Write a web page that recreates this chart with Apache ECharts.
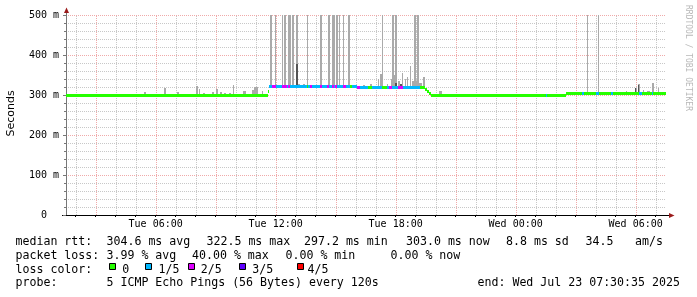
<!DOCTYPE html>
<html><head><meta charset="utf-8">
<script src="https://cdn.jsdelivr.net/npm/echarts@6/dist/echarts.min.js"></script>
<style>html,body{margin:0;padding:0;background:#fff}#c{width:697px;height:297px}</style>
</head><body><div id="c"></div>
<script>
// x values: minutes since Tue 00:00
const X_MIN = 91, X_MAX = 1891;
const xTickValues = [360, 720, 1080, 1440, 1800];
const xTickLabels = ['Tue 06:00', 'Tue 12:00', 'Tue 18:00', 'Wed 00:00', 'Wed 06:00'];
const yTickValues = [0, 100, 200, 300, 400, 500];
const yTickLabels = ['0  ', '100 m', '200 m', '300 m', '400 m', '500 m'];

// median rtt (ms), step starts (minutes) and loss level (0..4 of 5)
const medTime = [91, 696, 700, 710, 720, 740, 753, 757, 763, 813, 816, 823, 828, 853, 858, 873, 880, 888, 895, 899, 905, 923, 931, 943, 948, 963, 967, 973, 997, 1009, 1038, 1053, 1060, 1068, 1087, 1102, 1153, 1168, 1174, 1180, 1186, 1189, 1531, 1535, 1590, 1638, 1645, 1681, 1691, 1725, 1733, 1810, 1818, 1848, 1853];
const medValue = [298.5, 309, 321, 321, 321, 321, 321, 321, 321, 321, 321, 321, 321, 321, 321, 321, 321, 321, 321, 321, 321, 321, 321, 321, 321, 320, 318.5, 318.5, 318.5, 318.5, 319.5, 319.5, 319.5, 318.5, 319.5, 318.5, 318.5, 314, 308, 303, 299.5, 298.5, 298.5, 298.5, 303.5, 303.5, 303.5, 303.5, 303.5, 303.5, 303.5, 303.5, 303.5, 303.5, 303.5];
const medLoss = [0, 0, 1, 2, 1, 2, 1, 2, 1, 0, 1, 2, 1, 2, 1, 2, 1, 2, 1, 2, 1, 2, 1, 0, 1, 2, 2, 1, 0, 1, 0, 1, 2, 1, 2, 1, 0, 0, 0, 0, 0, 0, 1, 0, 0, 1, 0, 1, 0, 1, 0, 1, 0, 1, 0];

// smoke (ping spread): start/end minutes and top value (ms)
const smokeStart = [307, 325, 385, 424, 481, 490, 502, 529, 541, 553, 565, 580, 592, 622, 649, 655, 679, 703, 718, 740, 746, 756, 768, 780, 784, 802, 813, 852, 877, 889, 900, 910, 922, 936, 982, 1003, 1027, 1033, 1040, 1053, 1066, 1068, 1072, 1078, 1087, 1098, 1108, 1113, 1123, 1129, 1135, 1144, 1150, 1161, 1210, 1654, 1687, 1771, 1798, 1807, 1821, 1834, 1848, 1867, 1879];
const smokeEnd   = [313, 331, 391, 430, 487, 493, 508, 535, 547, 559, 571, 586, 595, 631, 655, 667, 682, 710, 721, 743, 751, 766, 776, 786, 793, 808, 816, 858, 883, 897, 906, 913, 925, 943, 988, 1009, 1030, 1042, 1043, 1056, 1069, 1075, 1084, 1083, 1093, 1103, 1111, 1118, 1126, 1144, 1141, 1150, 1159, 1168, 1219, 1657, 1690, 1774, 1804, 1813, 1824, 1843, 1855, 1870, 1882];
const smokeTop   = [303, 308, 317, 308, 322, 314, 305, 308, 314, 308, 305, 304, 326, 309, 313, 321, 309, 500, 500, 500, 500, 500, 500, 500, 327, 327, 500, 500, 500, 500, 500, 500, 500, 500, 326, 327, 339, 352, 500, 327, 339, 500, 349, 500, 334, 356, 339, 344, 372, 334, 500, 500, 330, 346, 310, 500, 500, 310, 318, 327, 313, 310, 329, 318, 307];
const darkStart = [780, 1078, 1093, 1798, 1807];
const darkEnd   = [786, 1083, 1099, 1801, 1810];
const darkTop   = [377, 330, 328, 318, 325];

const lossColors = ['#26ff00', '#00b8ff', '#dd00ff', '#5e00ff', '#ff0000'];
const lossLabels = ['0', '1/5', '2/5', '3/5', '4/5'];

const statLine1 = ['median rtt:', '304.6 ms avg', '322.5 ms max', '297.2 ms min', '303.0 ms now', '8.8 ms sd', '34.5', 'am/s'];
const statLine2 = ['packet loss:', '3.99 % avg', '40.00 % max', '0.00 % min', '0.00 % now'];
const statLine4 = ['probe:', '5 ICMP Echo Pings (56 Bytes) every 120s', 'end: Wed Jul 23 07:30:35 2025'];

// ---- layout ----
const MONO = '"DejaVu Sans Mono", monospace';
const line1X = [15.5, 106.5, 206.5, 304, 406, 506, 585.5, 635];
const line2X = [15.5, 106.5, 192, 285.5, 390.5];
const line4X = [15.5, 106.5, 477.5];
const boxX = [109, 145, 188, 239, 297];
const boxLabelX = [122.2, 158.5, 200.7, 252.3, 307.5];

function medianAt(t) {
  let v = medValue[0];
  for (let i = 0; i < medTime.length; i++) { if (medTime[i] <= t) v = medValue[i]; else break; }
  return v;
}
const medData = medTime.map((t, i) => [t, i + 1 < medTime.length ? medTime[i + 1] : X_MAX, medValue[i], medLoss[i]]);
const smokeData = smokeStart.map((s, i) => [s, smokeEnd[i], medianAt(s), smokeTop[i]]);
const darkData = darkStart.map((s, i) => [s, darkEnd[i], medianAt(s), darkTop[i]]);
const hourLines = [];
for (let m = Math.ceil(X_MIN / 60) * 60; m < X_MAX; m += 60) hourLines.push([m]);

function barRender(color) {
  return function (params, api) {
    const a = api.coord([api.value(0), api.value(3)]);
    const b = api.coord([api.value(1), api.value(2)]);
    const x1 = Math.round(a[0]);
    const x2 = Math.max(Math.round(b[0]), x1 + 1);
    const y1 = Math.round(a[1]);
    const y2 = Math.round(b[1]);
    return { type: 'rect', shape: { x: x1, y: y1, width: x2 - x1, height: y2 - y1 }, style: { fill: color } };
  };
}

const graphics = [];
function txt(x, y, s, opt) {
  graphics.push(Object.assign({ type: 'text', x: x, y: y, silent: true,
    style: { text: s, font: '11.6px ' + MONO, fill: '#000', align: 'left', verticalAlign: 'middle' } }, opt || {}));
}
statLine1.forEach((s, i) => txt(line1X[i], 242, s));
statLine2.forEach((s, i) => txt(line2X[i], 255.5, s));
txt(15.5, 269.5, 'loss color:');
lossColors.forEach((c, i) => {
  graphics.push({ type: 'rect', silent: true, shape: { x: boxX[i] + 0.5, y: 263.5, width: 6, height: 6 },
    style: { fill: c, stroke: '#000', lineWidth: 1 } });
  txt(boxLabelX[i], 269.5, lossLabels[i]);
});
statLine4.forEach((s, i) => txt(line4X[i], 283, s));
// axis title and watermark
graphics.push({ type: 'text', x: 11, y: 113.5, rotation: Math.PI / 2, silent: true,
  style: { text: 'Seconds', font: '11px "DejaVu Sans", sans-serif', fill: '#000', align: 'center', verticalAlign: 'middle' } });
graphics.push({ type: 'text', x: 688, y: 5, rotation: -Math.PI / 2, silent: true,
  style: { text: 'RRDTOOL / TOBI OETIKER', font: '8px ' + MONO, fill: '#b8b8b8', align: 'left', verticalAlign: 'middle' } });
// axis extensions and arrows
graphics.push({ type: 'line', silent: true, shape: { x1: 66.5, y1: 12, x2: 66.5, y2: 15.5 }, style: { stroke: '#777', lineWidth: 1 } });
graphics.push({ type: 'line', silent: true, shape: { x1: 62, y1: 215.5, x2: 66, y2: 215.5 }, style: { stroke: '#000', lineWidth: 1 } });
graphics.push({ type: 'line', silent: true, shape: { x1: 666, y1: 215.5, x2: 669, y2: 215.5 }, style: { stroke: '#000', lineWidth: 1 } });
graphics.push({ type: 'polygon', silent: true, shape: { points: [[64, 13], [69, 13], [66.5, 7.5]] }, style: { fill: '#9b1b1b' } });
graphics.push({ type: 'polygon', silent: true, shape: { points: [[669, 213], [669, 218], [674.5, 215.5]] }, style: { fill: '#9b1b1b' } });

const chart = echarts.init(document.getElementById('c'), null, { renderer: 'canvas', width: 697, height: 297 });
chart.setOption({
  animation: false,
  backgroundColor: '#ffffff',
  grid: { left: 66, top: 15, width: 600, height: 200, containLabel: false },
  xAxis: {
    type: 'value', min: X_MIN, max: X_MAX,
    axisLine: { show: true, onZero: false, lineStyle: { color: '#000', width: 1 } },
    splitLine: { show: false },
    axisTick: { show: true, customValues: hourLines.map(d => d[0]), length: 2, lineStyle: { color: '#000' } },
    axisLabel: { customValues: xTickValues, formatter: v => xTickLabels[xTickValues.indexOf(v)] || '',
      fontFamily: MONO, fontSize: 10, color: '#000', margin: 4 }
  },
  yAxis: {
    type: 'value', min: 0, max: 500, interval: 100,
    axisLine: { show: true, lineStyle: { color: '#777', width: 1 } },
    axisTick: { show: true, length: 3, lineStyle: { color: '#777' } },
    minorTick: { show: true, splitNumber: 5, length: 2, lineStyle: { color: '#777' } },
    splitLine: { show: true, lineStyle: { color: '#f0aaaa', width: 1, type: [1, 1] } },
    minorSplitLine: { show: true, lineStyle: { color: '#c8c8c8', width: 1, type: [1, 1] } },
    axisLabel: { formatter: v => { const i = yTickValues.indexOf(v); return i >= 0 ? yTickLabels[i] : ''; },
      fontFamily: MONO, fontSize: 10, color: '#000', margin: 7 }
  },
  series: [
    { type: 'custom', z: 1, silent: true, data: hourLines, encode: { x: 0 },
      renderItem: function (params, api) {
        const v = api.value(0);
        const p = api.coord([v, 0]), q = api.coord([v, 500]);
        const x = Math.round(p[0]) + 0.5;
        return { type: 'line', shape: { x1: x, y1: p[1], x2: x, y2: q[1] },
          style: { stroke: v % 180 === 0 ? '#f0aaaa' : '#c8c8c8', lineWidth: 1, lineDash: [1, 1] } };
      } },
    { type: 'custom', z: 2, silent: true, data: smokeData, encode: { x: [0, 1], y: [2, 3] }, renderItem: barRender('#aaaaaa') },
    { type: 'custom', z: 3, silent: true, data: darkData, encode: { x: [0, 1], y: [2, 3] }, renderItem: barRender('#555555') },
    { type: 'custom', z: 4, silent: true, data: medData, encode: { x: [0, 1], y: 2 },
      renderItem: function (params, api) {
        const a = api.coord([api.value(0), api.value(2)]);
        const b = api.coord([api.value(1), api.value(2)]);
        const x1 = Math.round(a[0]);
        const x2 = Math.max(Math.round(b[0]), x1 + 1);
        return { type: 'rect', shape: { x: x1, y: Math.round(a[1] - 1.5), width: x2 - x1, height: 3 },
          style: { fill: lossColors[api.value(3)] } };
      } }
  ],
  graphic: graphics
});
</script></body></html>
